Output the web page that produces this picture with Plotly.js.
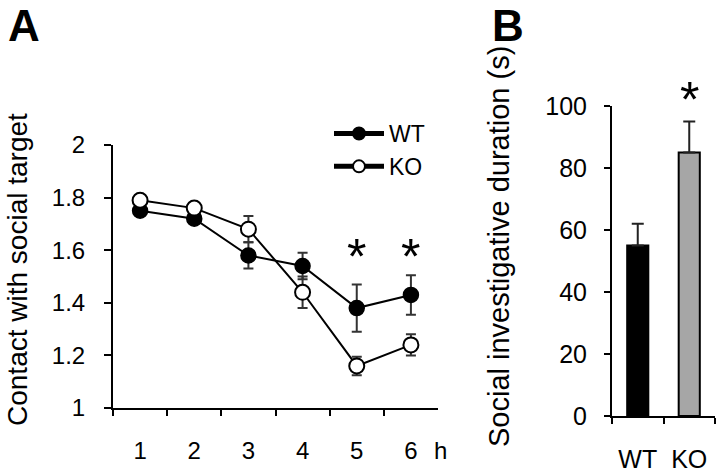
<!DOCTYPE html>
<html>
<head>
<meta charset="utf-8">
<script src="https://cdn.plot.ly/plotly-3.0.1.min.js"></script>
<style>html,body{margin:0;padding:0;background:#fff;}#chart{width:720px;height:475px;}</style>
</head>
<body>
<div id="chart"></div>
<script>
// Panel A data
const hours = ["1", "2", "3", "4", "5", "6"];
const wtContact = [1.75, 1.72, 1.58, 1.54, 1.38, 1.43];
const wtContactErr = [0.01, 0.01, 0.05, 0.05, 0.09, 0.075];
const koContact = [1.79, 1.76, 1.68, 1.44, 1.16, 1.24];
const koContactErr = [0.01, 0.01, 0.05, 0.06, 0.035, 0.04];
const contactSignificant = [false, false, false, false, true, true];

// Panel B data
const groups = ["WT", "KO"];
const duration = [55, 85];
const durationErr = [7, 10];
const durationSignificant = [false, true];

const FONT = "Liberation Sans, Arial, Helvetica, sans-serif";

const traces = [
  {
    x: hours, y: wtContact, name: "WT", type: "scatter", mode: "lines+markers",
    xaxis: "x", yaxis: "y",
    line: {color: "#000", width: 2},
    marker: {color: "#000", size: 15, line: {color: "#000", width: 1.5}},
    error_y: {type: "data", array: wtContactErr, visible: true, color: "#333", thickness: 2, width: 5}
  },
  {
    x: hours, y: koContact, name: "KO", type: "scatter", mode: "lines+markers",
    xaxis: "x", yaxis: "y",
    line: {color: "#000", width: 2},
    marker: {color: "#fff", size: 15, line: {color: "#000", width: 2}},
    error_y: {type: "data", array: koContactErr, visible: true, color: "#333", thickness: 2, width: 5}
  },
  {
    x: groups, y: duration, type: "bar", showlegend: false,
    xaxis: "x2", yaxis: "y2",
    marker: {color: ["#000", "#a6a6a6"], line: {color: "#000", width: 2}},
    error_y: {type: "data", symmetric: false, array: durationErr, arrayminus: durationErr.map(() => 0),
              visible: true, color: "#222", thickness: 2, width: 6}
  }
];

const axisCommon = {
  showgrid: false, zeroline: false, showline: true, linecolor: "#000", linewidth: 2,
  ticks: "outside", tickcolor: "#000", tickwidth: 2, fixedrange: true
};

const annotations = [
  {xref: "paper", yref: "paper", x: 24/720, y: 1, text: "<b>A</b>", showarrow: false, borderpad: 0,
   font: {family: FONT, size: 44, color: "#000"}, xanchor: "center", yanchor: "top"},
  {xref: "paper", yref: "paper", x: 508/720, y: 1, text: "<b>B</b>", showarrow: false, borderpad: 0,
   font: {family: FONT, size: 44, color: "#000"}, xanchor: "center", yanchor: "top"},
  {xref: "paper", yref: "paper", x: 17/720, y: 1 - 270/475, text: "Contact with social target", textangle: -90,
   showarrow: false, font: {family: FONT, size: 28, color: "#000"}, xanchor: "center", yanchor: "middle"},
  {xref: "paper", yref: "paper", x: 499/720, y: 1 - 247/475, text: "Social investigative duration (s)", textangle: -90,
   showarrow: false, font: {family: FONT, size: 29, color: "#000"}, xanchor: "center", yanchor: "middle"},
  {xref: "paper", yref: "paper", x: 440/720, y: 1 - 450/475, text: "h", showarrow: false,
   font: {family: FONT, size: 24, color: "#000"}, xanchor: "center", yanchor: "middle"}
];

// asterisks over the significant hours, at a common level above the highest error bar
const sigTops = hours.map((h, i) => contactSignificant[i] ? Math.max(wtContact[i] + wtContactErr[i], koContact[i] + koContactErr[i]) : -Infinity);
const sigLevel = Math.max.apply(null, sigTops);
hours.forEach((h, i) => {
  if (contactSignificant[i]) {
    annotations.push({xref: "x", yref: "y", x: i, y: sigLevel, text: "*",
      showarrow: false, font: {family: FONT, size: 50, color: "#000"}, xanchor: "center", yanchor: "bottom", yshift: -12});
  }
});
groups.forEach((g, i) => {
  if (durationSignificant[i]) {
    annotations.push({xref: "x2", yref: "y2", x: i, y: duration[i] + durationErr[i], text: "*",
      showarrow: false, font: {family: FONT, size: 50, color: "#000"}, xanchor: "center", yanchor: "bottom", yshift: -8});
  }
});

const layout = {
  width: 720, height: 475,
  margin: {l: 0, r: 0, t: 0, b: 0},
  paper_bgcolor: "#fff", plot_bgcolor: "#fff",
  font: {family: FONT, color: "#000"},
  bargap: 0.59,
  showlegend: true,
  legend: {
    x: 329/720, y: 1 - 112/475, xanchor: "left", yanchor: "top",
    font: {family: FONT, size: 23, color: "#000"},
    itemsizing: "constant", itemwidth: 50, tracegroupgap: 0,
    bgcolor: "rgba(0,0,0,0)"
  },
  xaxis: Object.assign({}, axisCommon, {
    domain: [113/720, 438/720], anchor: "y", type: "category", range: [-0.5, 5.5],
    tickson: "boundaries", ticklen: 6, tickfont: {family: FONT, size: 24, color: "#000"},
    ticklabelstandoff: 20
  }),
  yaxis: Object.assign({}, axisCommon, {
    domain: [1 - 408/475, 1 - 145/475], anchor: "x", range: [1, 2], dtick: 0.2, tick0: 1,
    ticklen: 7, tickfont: {family: FONT, size: 24, color: "#000"}, ticklabelstandoff: 14
  }),
  xaxis2: Object.assign({}, axisCommon, {
    domain: [612/720, 715/720], anchor: "y2", type: "category", range: [-0.5, 1.5],
    tickson: "boundaries", ticklen: 6, tickfont: {family: FONT, size: 25, color: "#000"},
    ticklabelstandoff: 20
  }),
  yaxis2: Object.assign({}, axisCommon, {
    domain: [1 - 416/475, 1 - 106/475], anchor: "x2", range: [0, 100], dtick: 20, tick0: 0,
    ticklen: 6, tickfont: {family: FONT, size: 25, color: "#000"}, ticklabelstandoff: 12
  }),
  annotations: annotations
};

Plotly.newPlot("chart", traces, layout, {displayModeBar: false, staticPlot: true});
</script>
</body>
</html>
